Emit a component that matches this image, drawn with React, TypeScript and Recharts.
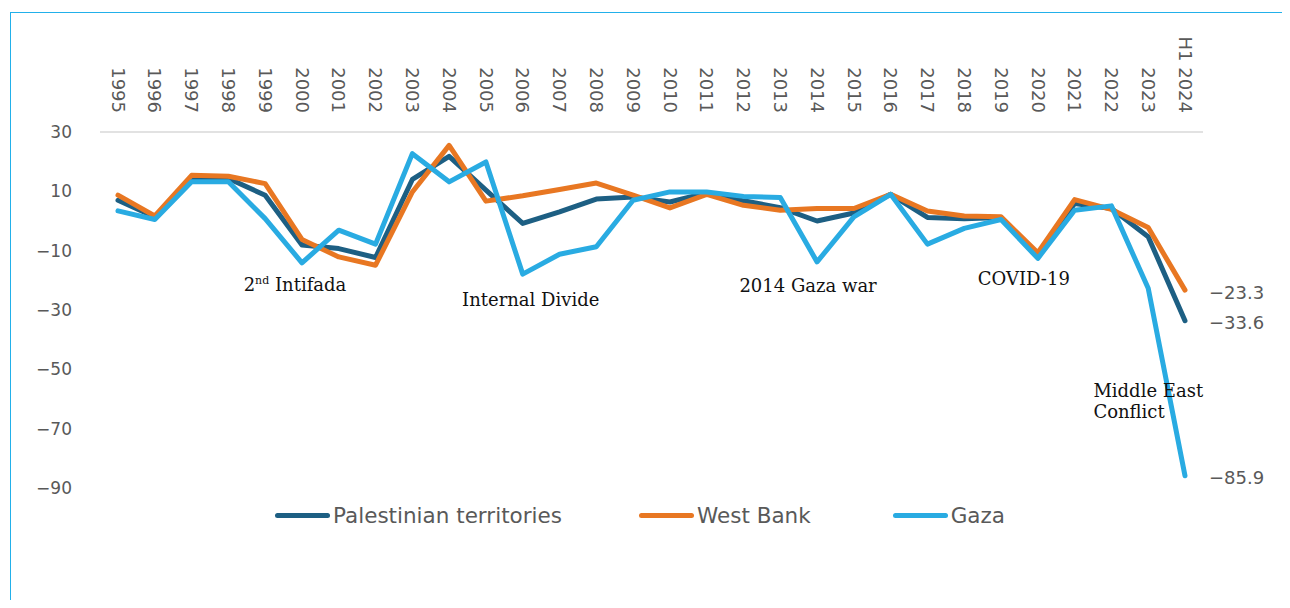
import { LineChart, Line, XAxis, YAxis, Legend, ReferenceDot } from 'recharts';

// year categories, last one is the first half of 2024
const years = [
  '1995', '1996', '1997', '1998', '1999', '2000', '2001', '2002', '2003', '2004',
  '2005', '2006', '2007', '2008', '2009', '2010', '2011', '2012', '2013', '2014',
  '2015', '2016', '2017', '2018', '2019', '2020', '2021', '2022', '2023', 'H1 2024',
];

const palestinian = [
  7.0, 1.4, 14.6, 14.3, 8.7, -8.1, -9.3, -12.3, 14.0, 21.8,
  10.4, -0.8, 3.1, 7.4, 8.1, 6.4, 9.5, 6.8, 4.5, 0.0,
  2.7, 9.0, 1.2, 0.8, 1.2, -11.5, 5.9, 4.2, -5.3, -33.6,
];

const westBank = [
  8.7, 1.7, 15.4, 15.1, 12.6, -6.2, -12.1, -14.9, 9.8, 25.5,
  6.7, 8.5, 10.6, 12.8, 8.7, 4.4, 9.0, 5.3, 3.6, 4.2,
  4.2, 9.0, 3.4, 1.7, 1.4, -10.7, 7.2, 3.9, -2.2, -23.3,
];

const gaza = [
  3.4, 0.5, 13.2, 13.2, 0.8, -14.1, -3.1, -7.8, 22.7, 13.2,
  19.9, -17.9, -11.2, -8.7, 7.0, 9.8, 9.8, 8.3, 7.9, -13.8,
  1.4, 9.0, -7.8, -2.5, 0.5, -12.6, 3.6, 5.1, -22.7, -85.9,
];

const yTicks = [30, 10, -10, -30, -50, -70, -90];

const series = [
  { key: 'pt', name: 'Palestinian territories', color: '#1d5f83', gap: 77 },
  { key: 'wb', name: 'West Bank', color: '#e87722', gap: 82 },
  { key: 'gz', name: 'Gaza', color: '#29abe2', gap: 0 },
];

const data = years.map((year, i) => ({
  year,
  pt: palestinian[i],
  wb: westBank[i],
  gz: gaza[i],
}));

const SANS = '"DejaVu Sans", sans-serif';
const SERIF = '"DejaVu Serif", serif';
const GREY = '#595959';

const minus = (s: string) => s.replace('-', '\u2212');

function YearTick({ x, y, payload }: any) {
  return (
    <text
      transform={`translate(${x},${y}) rotate(90)`}
      textAnchor="end"
      dy="0.35em"
      fontSize={18}
      fill={GREY}
      fontFamily={SANS}
    >
      {payload.value}
    </text>
  );
}

function EndLabel({ x, y, index, value }: any) {
  if (index !== years.length - 1) return null;
  return (
    <text
      x={x + 24}
      y={y + 2}
      dominantBaseline="central"
      fontSize={18}
      fill={GREY}
      fontFamily={SANS}
    >
      {minus(Number(value).toFixed(1))}
    </text>
  );
}

function Note({ viewBox, lines, anchor = 'middle', dx = 0, sup }: any) {
  const { x, y } = viewBox;
  if (sup) {
    return (
      <text x={x + dx} y={y} textAnchor={anchor} fontSize={18} fill="#111" fontFamily={SERIF}>
        <tspan>{sup[0]}</tspan>
        <tspan fontSize={11} dy={-7}>{sup[1]}</tspan>
        <tspan dy={7}>{lines[0]}</tspan>
      </text>
    );
  }
  return (
    <text x={x + dx} y={y} textAnchor={anchor} fontSize={18} fill="#111" fontFamily={SERIF}>
      {lines.map((l: string, i: number) => (
        <tspan key={i} x={x + dx} dy={i ? 21 : 0}>
          {l}
        </tspan>
      ))}
    </text>
  );
}

function LegendRow() {
  return (
    <div style={{ height: 60, boxSizing: 'border-box', paddingTop: 14, paddingLeft: 267, display: 'flex' }}>
      {series.map((s) => (
        <div key={s.key} style={{ display: 'flex', alignItems: 'center', height: 26, marginRight: s.gap }}>
          <span style={{ width: 55, height: 5, borderRadius: 3, background: s.color, display: 'inline-block' }} />
          <span style={{ marginLeft: 3, fontSize: 21.5, color: GREY, fontFamily: SANS, whiteSpace: 'nowrap' }}>
            {s.name}
          </span>
        </div>
      ))}
    </div>
  );
}

export default function App() {
  return (
    <div style={{ position: 'relative', width: 1274, height: 592, overflow: 'hidden' }}>
      <div
        style={{
          position: 'absolute',
          left: 2,
          top: 4,
          width: 1300,
          height: 620,
          borderTop: '1.5px solid #22b0ea',
          borderLeft: '1.5px solid #22b0ea',
        }}
      />
      <div style={{ position: 'absolute', left: 0, top: 0 }}>
        <LineChart width={1274} height={590} data={data} margin={{ top: 20, right: 79, bottom: 50, left: 0 }}>
          <XAxis
            dataKey="year"
            orientation="top"
            height={104}
            interval={0}
            padding={{ left: 18, right: 18 }}
            tickLine={false}
            tickMargin={13}
            axisLine={{ stroke: '#d9d9d9', strokeWidth: 1.5 }}
            tick={<YearTick />}
          />
          <YAxis
            type="number"
            domain={[-90, 30]}
            ticks={yTicks}
            width={92}
            axisLine={false}
            tickLine={false}
            tickMargin={22}
            tickFormatter={(v: number) => minus(String(v))}
            tick={{ fontSize: 17, fill: GREY, fontFamily: SANS }}
          />
          <ReferenceDot x="2000" y={-23.7} r={0} fill="none" stroke="none" label={<Note lines={[' Intifada']} sup={['2', 'nd']} dx={-7} />} />
          <ReferenceDot x="2006" y={-28.7} r={0} fill="none" stroke="none" label={<Note lines={['Internal Divide']} dx={8} />} />
          <ReferenceDot x="2014" y={-23.9} r={0} fill="none" stroke="none" label={<Note lines={['2014 Gaza war']} dx={-9} />} />
          <ReferenceDot x="2020" y={-21.6} r={0} fill="none" stroke="none" label={<Note lines={['COVID-19']} dx={-14} />} />
          <ReferenceDot
            x="2022"
            y={-59.2}
            r={0}
            fill="none"
            stroke="none"
            label={<Note lines={['Middle East', 'Conflict']} anchor="start" dx={-18} />}
          />
          <Legend verticalAlign="bottom" content={<LegendRow />} />
          {series.map((s) => (
            <Line
              key={s.key}
              type="linear"
              dataKey={s.key}
              name={s.name}
              stroke={s.color}
              strokeWidth={5}
              strokeLinecap="round"
              strokeLinejoin="round"
              dot={false}
              activeDot={false}
              label={<EndLabel />}
              isAnimationActive={false}
            />
          ))}
        </LineChart>
      </div>
    </div>
  );
}
